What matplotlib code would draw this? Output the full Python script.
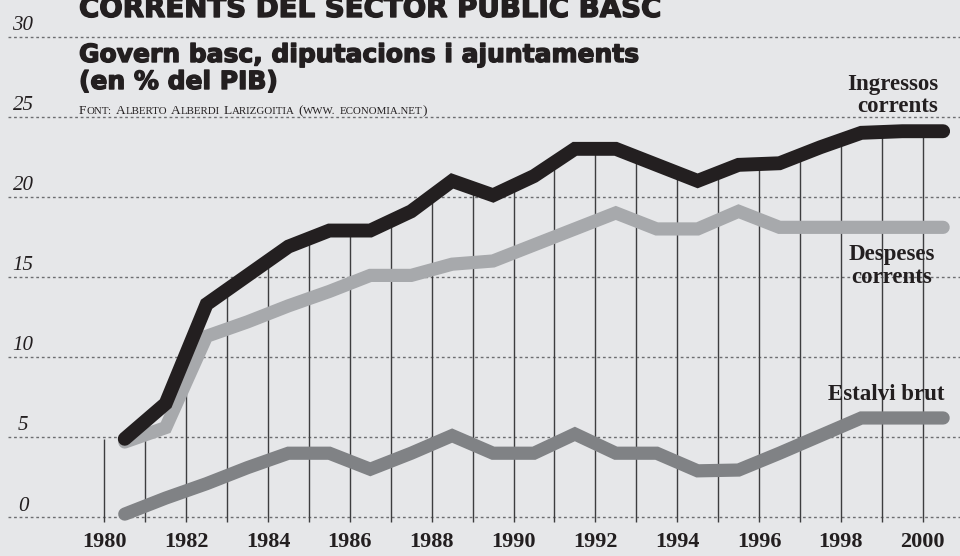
import numpy as np
import matplotlib
matplotlib.use('Agg')
import matplotlib.pyplot as plt
import matplotlib.patheffects as pe
from matplotlib.transforms import IdentityTransform

# dades (% del PIB), un punt per any
years = np.arange(1980, 2001)
ingressos = [4.9, 7.1, 13.3, 15.1, 16.9, 17.9, 17.9, 19.1, 21.0, 20.1, 21.3,
             23.0, 23.0, 22.0, 21.0, 22.0, 22.1, 23.1, 24.0, 24.1, 24.1]
despeses = [4.7, 5.6, 11.3, 12.2, 13.2, 14.1, 15.1, 15.1, 15.8, 16.0, 17.0,
            18.0, 19.0, 18.0, 18.0, 19.1, 18.1, 18.1, 18.1, 18.1, 18.1]
estalvi = [0.2, 1.2, 2.1, 3.1, 4.0, 4.0, 3.0, 4.0, 5.1, 4.0, 4.0,
           5.2, 4.0, 4.0, 2.9, 2.95, 4.0, 5.1, 6.2, 6.2, 6.2]
yticks = [0, 5, 10, 15, 20, 25, 30]
xlabels = list(range(1980, 2001, 2))

BG = '#e6e7e9'
INK = '#231f20'
SERIF = 'Liberation Serif'
HEAVY = 'DejaVu Sans'

W, H = 960, 556
fig = plt.figure(figsize=(W / 100, H / 100), dpi=100)
fig.patch.set_facecolor(BG)
ax = fig.add_axes([0, 0, 1, 1])
ax.set_facecolor(BG)
ax.axis('off')

# escala: 1980 a x=104.3 px, 40.92 px per any; 0 a y=517.3 px, 16.02 px per unitat
x0 = 1980 - 104.3 / 40.92
x1 = 1980 + (W - 104.3) / 40.92
ax.set_xlim(x0, x1)
ax.set_ylim((517.3 - H) / 16.02, 517.3 / 16.02)

def px2year(px):
    return 1980 + (px - 104.3) / 40.92

xs = years + 0.5

# línies horitzontals puntejades
ax.hlines(yticks, px2year(8), x1, colors='#6d6e71', linestyles=(0, (2, 2)), lw=1, zorder=1)

# línies verticals fins a la corba d'ingressos
ax.vlines(years, -0.27, np.interp(years, xs, ingressos), colors='#3d3d3f', lw=1, zorder=1)

kw = dict(solid_capstyle='round', solid_joinstyle='miter', zorder=3)
ax.plot(xs, despeses, color='#a7a9ac', lw=9.5, **kw)
ax.plot(xs, ingressos, color=INK, lw=10, **kw)
ax.plot(xs, estalvi, color='#808285', lw=9.5, **kw)

for v in yticks:
    ax.text(px2year(23), v + 0.7, str(v), ha='center', va='center',
            fontsize=15, style='italic', family=SERIF, color=INK)
for yr in xlabels:
    ax.text(yr, -1.52, str(yr), ha='center', va='center', fontsize=16,
            fontweight='bold', family=SERIF, color=INK)

def ftext(x, y, s, **k):
    # posició en píxels des de dalt a l'esquerra
    return fig.text(x / W, 1 - y / H, s, va='baseline', color=INK, **k)

heavy = dict(fontweight='bold', family=HEAVY,
             path_effects=[pe.withStroke(linewidth=1.0, foreground=INK)])
ftext(79, 17, 'CORRENTS DEL SECTOR PUBLIC BASC', fontsize=19.9, **heavy)
ftext(79, 62, 'Govern basc, diputacions i ajuntaments', fontsize=18, **heavy)
ftext(79, 89, '(en % del PIB)', fontsize=18, **heavy)

lab = dict(fontsize=16.5, fontweight='bold', family=SERIF)
ftext(938, 90, 'Ingressos', ha='right', **lab)
ftext(938, 112, 'corrents', ha='right', **lab)
ftext(892, 260, 'Despeses', ha='center', **lab)
ftext(892, 283, 'corrents', ha='center', **lab)
ftext(944, 400, 'Estalvi brut', ha='right', **lab)

# font en versaletes
renderer = fig.canvas.get_renderer()
src = 'Font: Alberto Alberdi Larizgoitia (www. economia.net)'
cx, base = 79.0, H - 114
for word in src.split(' '):
    runs = []
    for ch in word:
        big = ch.isupper() or ch in '()'
        if runs and runs[-1][1] == big:
            runs[-1][0] += ch
        else:
            runs.append([ch, big])
    for txt, big in runs:
        t = fig.text(cx, base, txt.upper(), transform=IdentityTransform(), va='baseline',
                     fontsize=9.6 if big else 7.8, family=SERIF, color=INK)
        cx += t.get_window_extent(renderer).width + 0.4
    cx += 3.2

fig.savefig('out.png', dpi=100, facecolor=BG)
